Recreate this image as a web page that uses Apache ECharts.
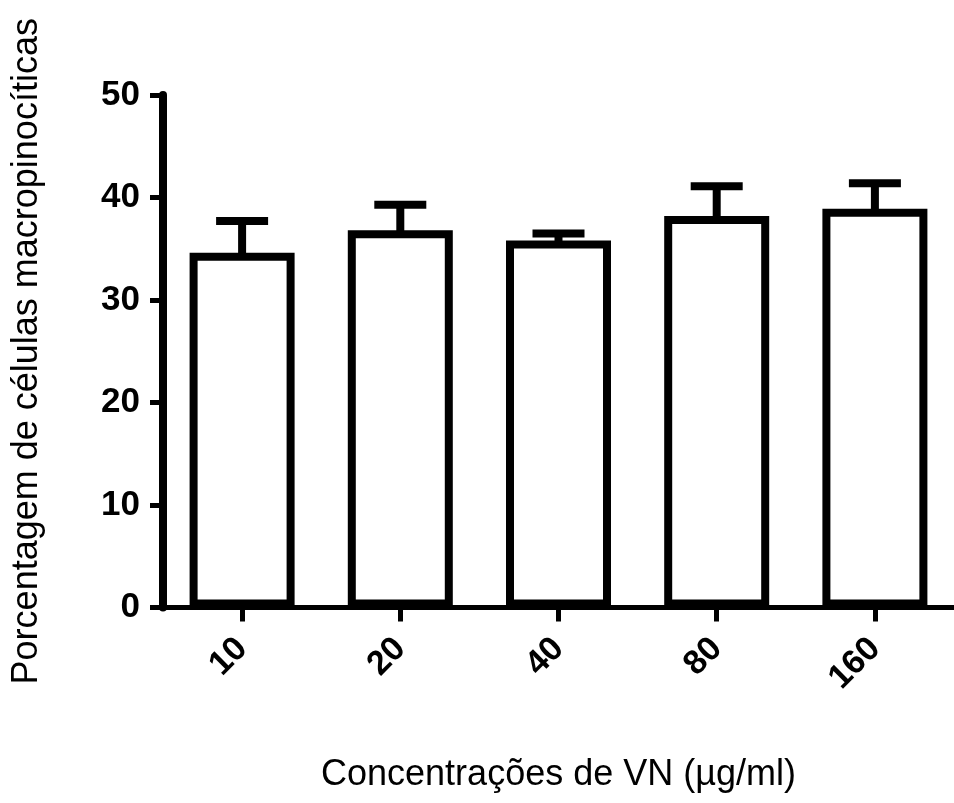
<!DOCTYPE html>
<html>
<head>
<meta charset="utf-8">
<script src="https://cdn.jsdelivr.net/npm/echarts@6/dist/echarts.min.js"></script>
<style>
  html, body { margin: 0; padding: 0; background: #fff; }
  #chart { width: 954px; height: 803px; }
</style>
</head>
<body>
<div id="chart"></div>
<script>
// Concentrations of VN tested (µg/ml)
const categories = ['10', '20', '40', '80', '160'];
// Mean percentage of macropinocytic cells
const means = [34.6, 36.8, 35.8, 38.2, 38.9];
// Upper end of the error bar (mean + error)
const upperErrors = [37.7, 39.3, 36.5, 41.1, 41.4];
// Y axis ticks
const yTicks = [0, 10, 20, 30, 40, 50];

const FONT = '"Liberation Sans", Arial, Helvetica, sans-serif';

const chart = echarts.init(document.getElementById('chart'), null, { renderer: 'canvas' });

const errorData = categories.map((c, i) => [i, means[i], upperErrors[i]]);

chart.setOption({
  backgroundColor: '#ffffff',
  animation: false,
  grid: { left: 163, top: 95, width: 798, height: 512.5, containLabel: false },
  xAxis: {
    type: 'category',
    data: categories,
    boundaryGap: true,
    axisLine: { show: true, lineStyle: { color: '#000', width: 5 } },
    axisTick: { show: true, alignWithLabel: true, length: 14, lineStyle: { color: '#000', width: 5 } },
    axisLabel: {
      rotate: 45, margin: 36, color: '#000',
      fontFamily: FONT, fontWeight: 'bold', fontSize: 34
    },
    name: 'Concentrações de VN (µg/ml)',
    nameLocation: 'middle',
    nameGap: 150,
    nameTextStyle: { color: '#000', fontFamily: FONT, fontSize: 36 }
  },
  yAxis: {
    type: 'value',
    min: yTicks[0],
    max: yTicks[yTicks.length - 1],
    interval: 10,
    splitLine: { show: false },
    axisLine: { show: true, lineStyle: { color: '#000', width: 8 } },
    axisTick: { show: true, length: 13, lineStyle: { color: '#000', width: 5 } },
    axisLabel: {
      margin: 23, color: '#000',
      fontFamily: FONT, fontWeight: 'bold', fontSize: 35
    },
    name: 'Porcentagem de células macropinocíticas',
    nameLocation: 'middle',
    nameGap: 118,
    nameRotate: 90,
    nameTextStyle: { color: '#000', fontFamily: FONT, fontSize: 36 }
  },
  series: [
    {
      type: 'custom',
      name: 'erro',
      z: 1,
      data: errorData,
      encode: { x: 0, y: [1, 2] },
      renderItem: function (params, api) {
        const base = api.coord([api.value(0), api.value(1)]);
        const top = api.coord([api.value(0), api.value(2)]);
        const half = 26;
        const style = { stroke: '#000', lineWidth: 8, lineCap: 'butt' };
        return {
          type: 'group',
          children: [
            { type: 'line', shape: { x1: base[0], y1: base[1] + 4, x2: top[0], y2: top[1] }, style: style },
            { type: 'line', shape: { x1: top[0] - half, y1: top[1], x2: top[0] + half, y2: top[1] }, style: style }
          ]
        };
      }
    },
    {
      type: 'bar',
      name: 'média',
      z: 2,
      data: means,
      barWidth: 105,
      itemStyle: { color: '#fff', borderColor: '#000', borderWidth: 8 }
    }
  ]
});
</script>
</body>
</html>
